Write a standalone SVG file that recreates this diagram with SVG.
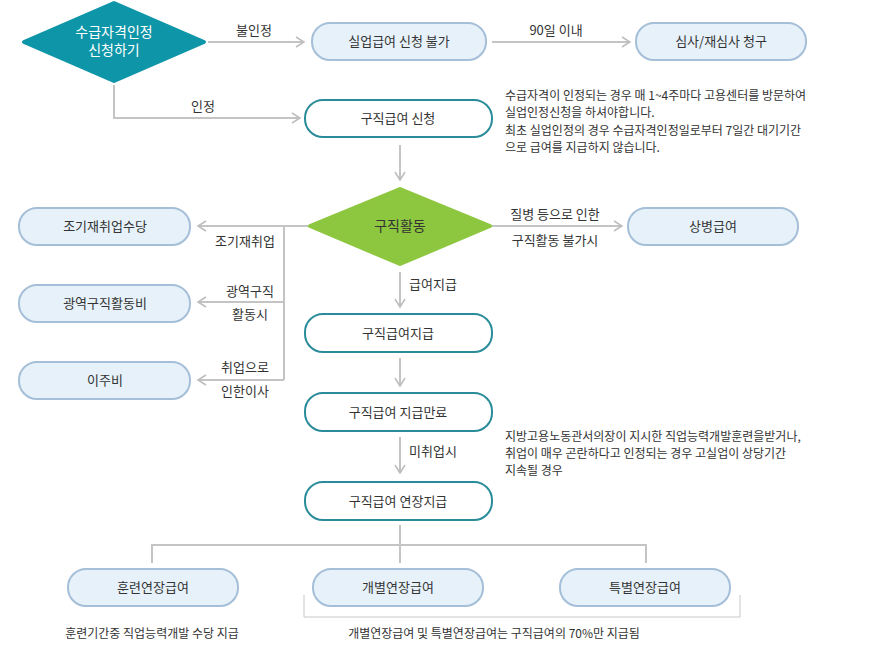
<svg xmlns="http://www.w3.org/2000/svg" width="881" height="670" viewBox="0 0 881 670">
<defs>
<marker id="ah" markerWidth="12" markerHeight="12" refX="10" refY="6" orient="auto" markerUnits="userSpaceOnUse"><path d="M2,1 L10,6 L2,11" fill="none" stroke="#bdbdbd" stroke-width="1.5"/></marker>
</defs>
<style>
text{font-family:"Noto Sans CJK KR","Noto Sans",sans-serif;font-size:13px;fill:#333}
.c{text-anchor:middle}
.lb{rx:18;fill:#e6f1fa;stroke:#a5bfd8;stroke-width:2}
.wb{rx:18;fill:#fff;stroke:#2a8c9a;stroke-width:2}
.ln{fill:none;stroke:#c4c4c4;stroke-width:2}
.nt{font-size:12px}
</style>
<rect width="881" height="670" fill="#fff"/>
<g id="connectors">
<path class="ln" d="M208,42 H304" marker-end="url(#ah)"/>
<path class="ln" d="M492,42 H630" marker-end="url(#ah)"/>
<path class="ln" d="M114,85 V118 H300" marker-end="url(#ah)"/>
<path class="ln" d="M400,145 V180" marker-end="url(#ah)"/>
<path class="ln" d="M492,226 H622" marker-end="url(#ah)"/>
<path class="ln" d="M308,226 H198" marker-end="url(#ah)"/>
<path class="ln" d="M284,226 V380"/>
<path class="ln" d="M284,302 H198" marker-end="url(#ah)"/>
<path class="ln" d="M284,380 H198" marker-end="url(#ah)"/>
<path class="ln" d="M400,272 V307" marker-end="url(#ah)"/>
<path class="ln" d="M400,358 V386" marker-end="url(#ah)"/>
<path class="ln" d="M400,437 V473" marker-end="url(#ah)"/>
<path class="ln" d="M400,525 V563 M152,563 V545 H646 V563"/>
<path d="M304,595 V617 H740 V595" fill="none" stroke="#c8c8c8" stroke-width="1"/>
<text x="254" y="35" class="c">불인정</text>
<text x="556" y="35" class="c">90일 이내</text>
<text x="203" y="111" class="c">인정</text>
<text x="555" y="219" class="c">질병 등으로 인한</text>
<text x="555" y="245" class="c">구직활동 불가시</text>
<text x="245" y="246" class="c">조기재취업</text>
<text x="250" y="296" class="c">광역구직</text>
<text x="250" y="319" class="c">활동시</text>
<text x="245" y="372" class="c">취업으로</text>
<text x="245" y="396" class="c">인한이사</text>
<text x="433" y="289" class="c">급여지급</text>
<text x="433" y="456" class="c">미취업시</text>
</g>
<g id="n1"><path d="M114,3 L204,42 L114,81 L24,42 Z" fill="#0e96a8" stroke="#0e96a8" stroke-linejoin="round" stroke-width="4"/><text x="114" y="37" class="c" style="fill:#fff;font-size:14px">수급자격인정</text><text x="114" y="55" class="c" style="fill:#fff;font-size:14px">신청하기</text></g>
<g id="n2"><rect class="lb" x="312" y="23" width="174" height="37"/><text x="399" y="46" class="c">실업급여 신청 불가</text></g>
<g id="n3"><rect class="lb" x="636" y="23" width="170" height="37"/><text x="721" y="46" class="c">심사/재심사 청구</text></g>
<g id="n4"><rect class="wb" x="305" y="100" width="187" height="37"/><text x="398" y="123" class="c">구직급여 신청</text></g>
<g id="note1" class="nt"><text x="505" y="100" class="nt">수급자격이 인정되는 경우 매 1~4주마다 고용센터를 방문하여</text><text x="505" y="117" class="nt">실업인정신청을 하셔야합니다.</text><text x="505" y="135" class="nt">최초 실업인정의 경우 수급자격인정일로부터 7일간 대기기간</text><text x="505" y="152" class="nt">으로 급여를 지급하지 않습니다.</text></g>
<g id="n5"><path d="M400,189 L490,226 L400,264 L310,226 Z" fill="#8dc63f" stroke="#8dc63f" stroke-linejoin="round" stroke-width="4"/><text x="400" y="231" class="c" style="font-size:14px">구직활동</text></g>
<g id="n6"><rect class="lb" x="628" y="208" width="170" height="37"/><text x="713" y="231" class="c">상병급여</text></g>
<g id="n7"><rect class="lb" x="19" y="208" width="171" height="37"/><text x="105" y="231" class="c">조기재취업수당</text></g>
<g id="n8"><rect class="lb" x="19" y="285" width="171" height="37"/><text x="105" y="308" class="c">광역구직활동비</text></g>
<g id="n9"><rect class="lb" x="19" y="362" width="171" height="37"/><text x="105" y="385" class="c">이주비</text></g>
<g id="n10"><rect class="wb" x="305" y="314" width="187" height="38"/><text x="398" y="338" class="c">구직급여지급</text></g>
<g id="n11"><rect class="wb" x="305" y="393" width="187" height="38"/><text x="398" y="417" class="c">구직급여 지급만료</text></g>
<g id="note2"><text x="505" y="441" class="nt">지방고용노동관서의장이 지시한 직업능력개발훈련을받거나,</text><text x="505" y="458" class="nt">취업이 매우 곤란하다고 인정되는 경우 고실업이 상당기간</text><text x="505" y="475" class="nt">지속될 경우</text></g>
<g id="n12"><rect class="wb" x="305" y="482" width="187" height="38"/><text x="398" y="506" class="c">구직급여 연장지급</text></g>
<g id="n13"><rect class="lb" x="68" y="569" width="170" height="37"/><text x="153" y="592" class="c">훈련연장급여</text></g>
<g id="n14"><rect class="lb" x="313" y="569" width="170" height="37"/><text x="398" y="592" class="c">개별연장급여</text></g>
<g id="n15"><rect class="lb" x="560" y="569" width="170" height="37"/><text x="645" y="592" class="c">특별연장급여</text></g>
<text x="152" y="638" class="c nt">훈련기간중 직업능력개발 수당 지급</text>
<text x="494" y="638" class="c nt">개별연장급여 및 특별연장급여는 구직급여의 70%만 지급됨</text>
</svg>
